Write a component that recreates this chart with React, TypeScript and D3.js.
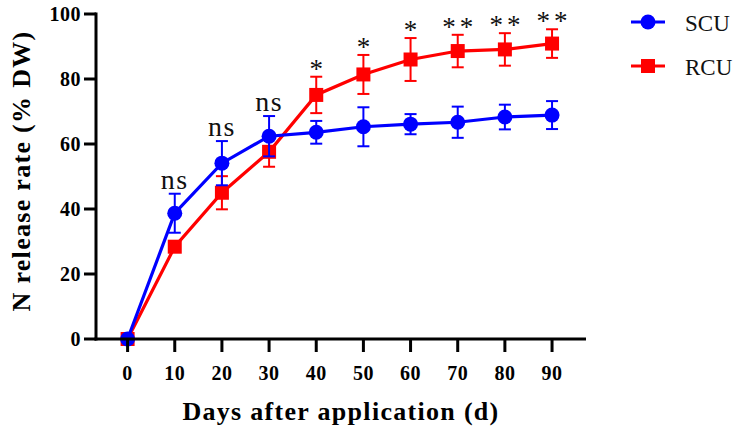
import React from "react";
import * as d3 from "d3";

const days = [0, 10, 20, 30, 40, 50, 60, 70, 80, 90];
const scuMean = [0, 38.7, 54.1, 62.4, 63.6, 65.3, 66.1, 66.7, 68.3, 68.9];
const scuErr = [0, 6.0, 6.8, 6.2, 3.5, 6.0, 3.1, 4.8, 3.8, 4.3];
const rcuMean = [0, 28.4, 45.0, 57.6, 75.1, 81.4, 86.0, 88.6, 89.1, 90.9];
const rcuErr = [0, 1.6, 5.1, 4.6, 5.6, 6.0, 6.6, 5.0, 5.0, 4.4];
const sigLabels = ["", "ns", "ns", "ns", "*", "*", "*", "**", "**", "**"];
const yTicks = [0, 20, 40, 60, 80, 100];

const W = 737;
const H = 440;
const serif = "'Liberation Serif', 'DejaVu Serif', serif";

const App = () => {
  const x = d3.scaleLinear().domain([-6.7, 97.2]).range([96, 586]);
  const y = d3.scaleLinear().domain([0, 100]).range([339, 14]);

  const line = d3
    .line<number>()
    .x((d, i) => x(days[i]))
    .y((d) => y(d));

  const series = [
    { name: "RCU", color: "#ff0000", mean: rcuMean, err: rcuErr, shape: "square" },
    { name: "SCU", color: "#0000ff", mean: scuMean, err: scuErr, shape: "circle" },
  ];

  const marker = (shape, cx, cy, color, key) =>
    shape === "circle" ? (
      <circle key={key} cx={cx} cy={cy} r={7.5} fill={color} />
    ) : (
      <rect key={key} x={cx - 7} y={cy - 7} width={14} height={14} fill={color} />
    );

  return (
    <svg width={W} height={H} style={{ position: "absolute", left: 0, top: 0 }}>
      <rect width={W} height={H} fill="#fff" />

      {series.map((s) => (
        <g key={s.name}>
          {s.mean.map((m, i) =>
            s.err[i] > 0 ? (
              <g key={i} stroke={s.color} strokeWidth={2}>
                <line x1={x(days[i])} x2={x(days[i])} y1={y(m - s.err[i])} y2={y(m + s.err[i])} />
                <line x1={x(days[i]) - 6} x2={x(days[i]) + 6} y1={y(m + s.err[i])} y2={y(m + s.err[i])} />
                <line x1={x(days[i]) - 6} x2={x(days[i]) + 6} y1={y(m - s.err[i])} y2={y(m - s.err[i])} />
              </g>
            ) : null
          )}
          <path d={line(s.mean) || ""} fill="none" stroke={s.color} strokeWidth={3.2} />
          {s.mean.map((m, i) => marker(s.shape, x(days[i]), y(m), s.color, i))}
        </g>
      ))}

      {/* significance marks */}
      {sigLabels.map((lab, i) => {
        if (!lab) return null;
        const top = Math.max(scuMean[i] + scuErr[i], rcuMean[i] + rcuErr[i]);
        const isNs = lab === "ns";
        return (
          <text
            key={i}
            x={x(days[i]) + (isNs ? 0 : 2)}
            y={y(top) + (isNs ? -5 : 1)}
            textAnchor="middle"
            fontFamily={serif}
            fontSize={isNs ? 28 : 27}
            letterSpacing={isNs ? 1.5 : 4}
            fill="#111"
          >
            {lab}
          </text>
        );
      })}

      {/* axes */}
      <g stroke="#000" strokeWidth={3}>
        <line x1={96} x2={96} y1={12.5} y2={340.5} />
        <line x1={94.5} x2={586} y1={339} y2={339} />
        {yTicks.map((t) => (
          <line key={t} x1={84} x2={96} y1={y(t)} y2={y(t)} />
        ))}
        {days.map((d) => (
          <line key={d} x1={x(d)} x2={x(d)} y1={339} y2={352} />
        ))}
      </g>
      {yTicks.map((t) => (
        <text
          key={t}
          x={81}
          y={y(t) + 7}
          textAnchor="end"
          fontFamily={serif}
          fontWeight="bold"
          fontSize={20}
          letterSpacing={0.5}
        >
          {t}
        </text>
      ))}
      {days.map((d) => (
        <text
          key={d}
          x={x(d)}
          y={380}
          textAnchor="middle"
          fontFamily={serif}
          fontWeight="bold"
          fontSize={20}
          letterSpacing={0.5}
        >
          {d}
        </text>
      ))}

      <text
        x={341}
        y={420}
        textAnchor="middle"
        fontFamily={serif}
        fontWeight="bold"
        fontSize={26}
        letterSpacing={1.3}
      >
        Days after application (d)
      </text>
      <text
        transform={`translate(30, 171) rotate(-90)`}
        textAnchor="middle"
        fontFamily={serif}
        fontWeight="bold"
        fontSize={26}
        letterSpacing={1.3}
      >
        N release rate (% DW)
      </text>

      {/* legend */}
      {[...series].reverse().map((s, i) => (
        <g key={s.name} transform={`translate(0, ${22 + i * 44})`}>
          <line x1={631} x2={665} y1={0} y2={0} stroke={s.color} strokeWidth={3.2} />
          {marker(s.shape, 648, 0, s.color, s.name)}
          <text x={685} y={9} fontFamily={serif} fontSize={23} fill="#111">
            {s.name}
          </text>
        </g>
      ))}
    </svg>
  );
};

export default App;
